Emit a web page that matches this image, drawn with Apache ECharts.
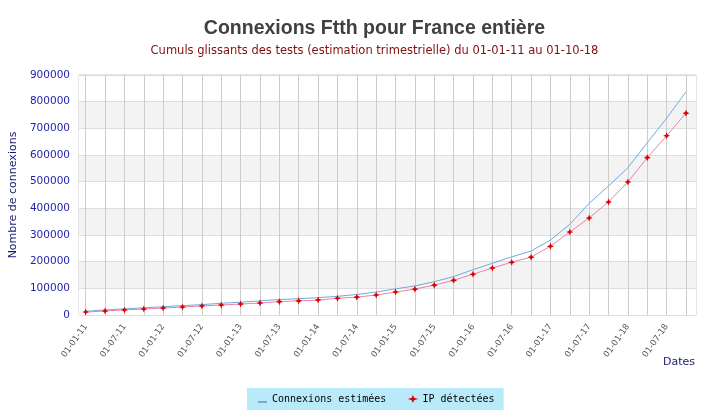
<!DOCTYPE html>
<html>
<head>
<meta charset="utf-8">
<script src="https://cdn.jsdelivr.net/npm/echarts@6/dist/echarts.min.js"></script>
<style>html,body{margin:0;padding:0;background:#fff;}#c{width:711px;height:415px;}</style>
</head>
<body>
<div id="c"></div>
<script>
const dates = ['01-01-11','01-04-11','01-07-11','01-10-11','01-01-12','01-04-12','01-07-12','01-10-12',
  '01-01-13','01-04-13','01-07-13','01-10-13','01-01-14','01-04-14','01-07-14','01-10-14',
  '01-01-15','01-04-15','01-07-15','01-10-15','01-01-16','01-04-16','01-07-16','01-10-16',
  '01-01-17','01-04-17','01-07-17','01-10-17','01-01-18','01-04-18','01-07-18','01-10-18'];
const connexionsEstimees = [14000,19000,23000,27000,31000,35000,39000,44000,48000,53000,58000,61000,65000,70000,77000,86000,
  98000,109000,125000,144000,170000,194000,218000,240000,281000,340000,419000,484000,552000,646000,738000,837000];
const ipDetectees = [11000,15000,19000,22500,26000,30000,34000,37500,41000,45000,50000,53000,56000,63000,67000,75000,
  86000,97000,112000,130000,153000,176000,198000,217000,258000,311000,364000,424000,499000,590000,672000,757000];
const yTicks = {min:0, max:900000, interval:100000};

const star = 'path://M0,-10 L3,-3 L10,0 L3,3 L0,10 L-3,3 L-10,0 L-3,-3 Z';
const dash = 'path://M0,0 L0.05,0 L0.05,0.05 Z M0,7 L9,7 L9,9 L0,9 Z M9,10 L8.95,10 L8.95,9.95 Z';
const chart = echarts.init(document.getElementById('c'), null, {renderer:'canvas'});
chart.setOption({
  animation:false,
  title:[
    {text:'Connexions Ftth pour France entière', left:374.5, top:19, textAlign:'center', padding:0,
     textStyle:{fontFamily:'Liberation Sans', fontWeight:'bold', fontSize:19.5, color:'#404040'}},
    {text:'Cumuls glissants des tests (estimation trimestrielle) du 01-01-11 au 01-10-18', left:374.5, top:45, textAlign:'center', padding:0,
     textStyle:{fontFamily:'DejaVu Sans', fontWeight:'normal', fontSize:11.5, color:'#801010'}}
  ],
  legend:{
    left:247, top:388, padding:[6,9,6,11], itemGap:21, itemWidth:9, itemHeight:10,
    backgroundColor:'#b9eafa', borderWidth:0,
    textStyle:{fontFamily:'DejaVu Sans Mono', fontSize:10, color:'#000'},
    data:[{name:'Connexions estimées', icon:dash},{name:'IP détectées'}]
  },
  grid:[
    {left:76, right:15, top:75, bottom:100, show:true, borderColor:'#cccccc', borderWidth:1, backgroundColor:'transparent'},
    {left:85.7, right:25, top:75, bottom:100}
  ],
  xAxis:[
    {type:'category', gridIndex:0, data:dates, boundaryGap:true, show:false},
    {type:'category', gridIndex:1, data:dates, boundaryGap:false,
     axisLine:{show:false}, axisTick:{show:false},
     splitLine:{show:true, interval:0, lineStyle:{color:'#cccccc', width:1}},
     axisLabel:{interval:1, rotate:55, margin:10, fontFamily:'DejaVu Sans', fontSize:8.5, color:'#555'},
     name:'Dates', nameLocation:'end', nameGap:9,
     nameTextStyle:{align:'right', verticalAlign:'top', padding:[42,0,0,0], fontFamily:'DejaVu Sans', fontSize:11, color:'#1a1a70'}}
  ],
  yAxis:[
    {type:'value', gridIndex:0, min:yTicks.min, max:yTicks.max, interval:yTicks.interval,
     axisLine:{show:false}, axisTick:{show:false},
     axisLabel:{margin:9, fontFamily:'DejaVu Sans', fontSize:10.5, color:'#1e1eb0', formatter:function(v){return String(v);}},
     splitLine:{show:true, lineStyle:{color:'#dddddd'}},
     splitArea:{show:true, areaStyle:{color:['#ffffff','#f3f3f3']}},
     name:'Nombre de connexions', nameLocation:'middle', nameGap:60,
     nameTextStyle:{fontFamily:'DejaVu Sans', fontSize:11, color:'#1a1a70'}},
    {type:'value', gridIndex:1, min:yTicks.min, max:yTicks.max, interval:yTicks.interval, show:false, splitLine:{show:false}}
  ],
  series:[
    {name:'Connexions estimées', type:'line', xAxisIndex:1, yAxisIndex:1, data:connexionsEstimees,
     symbol:'none', lineStyle:{color:'#74a9da', width:1}, itemStyle:{color:'#74a9da'}, z:3},
    {name:'IP détectées', type:'line', xAxisIndex:1, yAxisIndex:1, data:ipDetectees,
     symbol:star, symbolSize:7, lineStyle:{color:'#e884a8', width:1}, itemStyle:{color:'#dd0000'}, z:4}
  ]
});
</script>
</body>
</html>
